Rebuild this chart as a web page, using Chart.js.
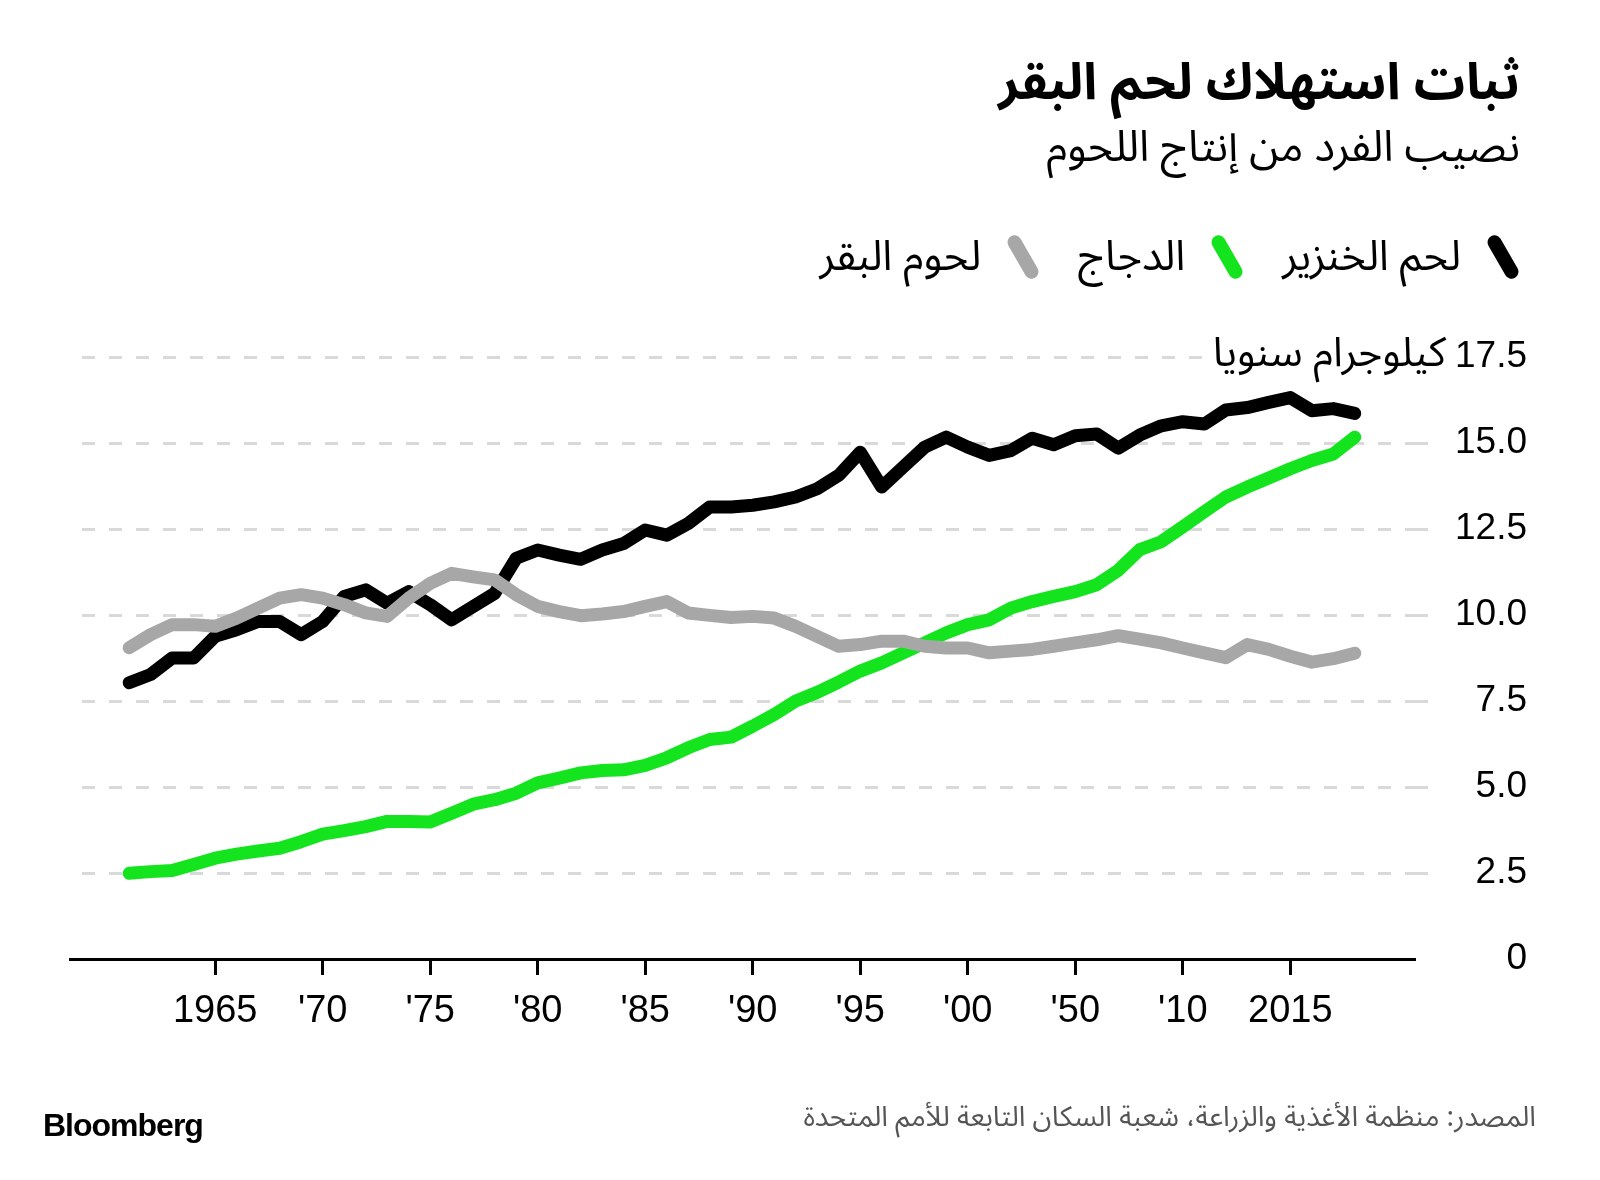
<!DOCTYPE html>
<html lang="ar">
<head>
<meta charset="utf-8">
<title>ثبات استهلاك لحم البقر</title>
<script src="https://cdn.jsdelivr.net/npm/chart.js@4.4.1/dist/chart.umd.min.js"></script>
<style>
    html, body { margin: 0; padding: 0; background: #fff; }
    #wrap { position: relative; width: 1600px; height: 1180px; overflow: hidden; }
    #chart { position: absolute; left: 0; top: 0; }
    .ar { position: absolute; direction: rtl; white-space: nowrap; color: #000;
          font-family: "Noto Sans Arabic", "DejaVu Sans", sans-serif; line-height: 1; }
    #title { right: 80px; top: 58px; font-size: 51px; font-weight: 700; }
    #subtitle { right: 80px; top: 126px; font-size: 43px; }
    #legend { right: 80px; top: 233px; display: flex; gap: 38px; align-items: center; }
    .legend-item { display: flex; align-items: center; gap: 24px; font-size: 42px; }
    .legend-icon { position: relative; width: 35px; height: 48px; }
    .legend-icon span { position: absolute; left: 11px; top: 0px; width: 14px; height: 48px;
          border-radius: 7px; transform: rotate(-30deg); }
    #unit { right: 154px; font-size: 41px; background: #fff; padding-left: 10px;
            transform: translateY(-58%); }
    #source { right: 64px; top: 1104px; font-size: 28px; color: #555; }
    #logo { position: absolute; left: 43px; top: 1107px; font-family: "Liberation Sans", Arial, sans-serif;
            font-weight: 700; font-size: 32px; letter-spacing: -1px; color: #000; }
</style>
</head>
<body>
<div id="wrap">
    <canvas id="chart" width="1600" height="1180"></canvas>
    <div id="title" class="ar">ثبات استهلاك لحم البقر</div>
    <div id="subtitle" class="ar">نصيب الفرد من إنتاج اللحوم</div>
    <div id="legend" class="ar"></div>
    <div id="unit" class="ar">كيلوجرام سنويا</div>
    <div id="logo">Bloomberg</div>
    <div id="source" class="ar">المصدر: منظمة الأغذية والزراعة، شعبة السكان التابعة للأمم المتحدة</div>
</div>
<script>
const years = [
    1961, 1962, 1963, 1964, 1965, 1966, 1967, 1968, 1969, 1970,
    1971, 1972, 1973, 1974, 1975, 1976, 1977, 1978, 1979, 1980,
    1981, 1982, 1983, 1984, 1985, 1986, 1987, 1988, 1989, 1990,
    1991, 1992, 1993, 1994, 1995, 1996, 1997, 1998, 1999, 2000,
    2001, 2002, 2003, 2004, 2005, 2006, 2007, 2008, 2009, 2010,
    2011, 2012, 2013, 2014, 2015, 2016, 2017, 2018
];

// kg per person per year
const pork = [
    8.03, 8.27, 8.75, 8.75, 9.38, 9.57, 9.81, 9.81, 9.43, 9.81,
    10.54, 10.73, 10.34, 10.68, 10.30, 9.86, 10.25, 10.63, 11.65, 11.89,
    11.74, 11.62, 11.89, 12.08, 12.47, 12.32, 12.66, 13.14, 13.14, 13.19,
    13.29, 13.43, 13.67, 14.06, 14.73, 13.72, 14.30, 14.88, 15.17, 14.88,
    14.64, 14.78, 15.14, 14.95, 15.21, 15.26, 14.85, 15.23, 15.50, 15.62,
    15.55, 15.96, 16.03, 16.18, 16.32, 15.94, 16.00, 15.86
];
const chicken = [
    2.49, 2.54, 2.57, 2.75, 2.93, 3.05, 3.14, 3.22, 3.41, 3.63,
    3.73, 3.85, 4.00, 4.00, 3.98, 4.24, 4.50, 4.63, 4.82, 5.12,
    5.26, 5.41, 5.48, 5.50, 5.63, 5.85, 6.14, 6.38, 6.45, 6.77,
    7.11, 7.50, 7.75, 8.05, 8.37, 8.61, 8.90, 9.19, 9.48, 9.72,
    9.86, 10.20, 10.39, 10.54, 10.68, 10.88, 11.30, 11.90, 12.13, 12.56,
    13.00, 13.43, 13.72, 13.98, 14.25, 14.49, 14.68, 15.17
];
const beef = [
    9.05, 9.43, 9.72, 9.72, 9.67, 9.91, 10.20, 10.49, 10.59, 10.49,
    10.30, 10.06, 9.96, 10.49, 10.92, 11.21, 11.11, 11.02, 10.59, 10.25,
    10.10, 9.98, 10.03, 10.10, 10.25, 10.39, 10.06, 9.99, 9.93, 9.96,
    9.91, 9.67, 9.38, 9.09, 9.14, 9.24, 9.24, 9.09, 9.04, 9.04,
    8.90, 8.95, 9.00, 9.09, 9.19, 9.28, 9.40, 9.30, 9.19, 9.04,
    8.90, 8.76, 9.14, 9.00, 8.80, 8.63, 8.73, 8.89
];

const seriesNames = ['لحم الخنزير', 'الدجاج', 'لحوم البقر'];
const seriesColors = ['#000000', '#14e41e', '#a7a7a7'];

const xTickYears = [1965, 1970, 1975, 1980, 1985, 1990, 1995, 2000, 2005, 2010, 2015];
const xTickLabels = ['1965', "'70", "'75", "'80", "'85", "'90", "'95", "'00", "'50", "'10", '2015'];
const yTickValues = [0, 2.5, 5, 7.5, 10, 12.5, 15, 17.5];
const yTickLabels = ['0', '2.5', '5.0', '7.5', '10.0', '12.5', '15.0', '17.5'];

const xMin = 1958.25, xMax = 2020.8;
const GRID_GREY = '#d9d9d9';

Chart.defaults.font.family = '"Liberation Sans", Arial, sans-serif';
Chart.defaults.color = '#000';

function toPoints(values) {
    return years.map((y, i) => ({ x: y, y: values[i] }));
}

function makeDataset(values, idx, order) {
    return {
        label: seriesNames[idx],
        data: toPoints(values),
        borderColor: seriesColors[idx],
        backgroundColor: seriesColors[idx],
        borderWidth: 13,
        borderCapStyle: 'round',
        borderJoinStyle: 'round',
        pointRadius: 0,
        tension: 0,
        order: order
    };
}

// keeps the unit label sitting on the top grid line
const unitLabelPlugin = {
    id: 'unitLabel',
    afterRender(chart) {
        const el = document.getElementById('unit');
        const y = chart.scales.y.getPixelForValue(yTickValues[yTickValues.length - 1]);
        el.style.top = y + 'px';
    }
};

const chart = new Chart(document.getElementById('chart'), {
    type: 'line',
    data: {
        datasets: [
            makeDataset(pork, 0, 2),
            makeDataset(chicken, 1, 1),
            makeDataset(beef, 2, 0)
        ]
    },
    plugins: [unitLabelPlugin],
    options: {
        responsive: false,
        animation: false,
        layout: { padding: { left: 70, top: 357, right: 73, bottom: 0 } },
        plugins: { legend: { display: false }, tooltip: { enabled: false } },
        scales: {
            x: {
                type: 'linear',
                min: xMin, max: xMax,
                afterFit: (scale) => { scale.height = 221; },
                afterBuildTicks: (scale) => { scale.ticks = xTickYears.map(v => ({ value: v })); },
                ticks: {
                    autoSkip: false, maxRotation: 0, padding: 14,
                    font: { size: 38 },
                    callback: (value) => xTickLabels[xTickYears.indexOf(value)]
                },
                grid: { drawOnChartArea: false, drawTicks: true, tickLength: 16, tickColor: '#000', tickWidth: 3 },
                border: { display: true, color: '#000', width: 3 }
            },
            y: {
                position: 'right',
                min: 0, max: 17.5,
                afterFit: (scale) => { scale.width = 112; },
                afterBuildTicks: (scale) => { scale.ticks = yTickValues.map(v => ({ value: v })); },
                ticks: {
                    crossAlign: 'far', padding: 20,
                    font: { size: 37 },
                    callback: (value) => yTickLabels[yTickValues.indexOf(value)]
                },
                grid: {
                    color: (ctx) => ctx.tick && ctx.tick.value === 0 ? 'rgba(0,0,0,0)' : GRID_GREY,
                    lineWidth: 3,
                    drawTicks: true, tickLength: 13,
                    tickColor: (ctx) => ctx.tick && ctx.tick.value === 0 ? 'rgba(0,0,0,0)' : GRID_GREY,
                    tickWidth: 3, tickBorderDash: [13, 14]
                },
                border: { display: false, dash: [13, 14], dashOffset: 15 }
            }
        }
    }
});

// html legend, built from the datasets
const legendEl = document.getElementById('legend');
chart.data.datasets.forEach(ds => {
    const item = document.createElement('div');
    item.className = 'legend-item';
    item.innerHTML = `<div class="legend-icon"><span style="background:${ds.borderColor}"></span></div><div>${ds.label}</div>`;
    legendEl.appendChild(item);
});
</script>
</body>
</html>
